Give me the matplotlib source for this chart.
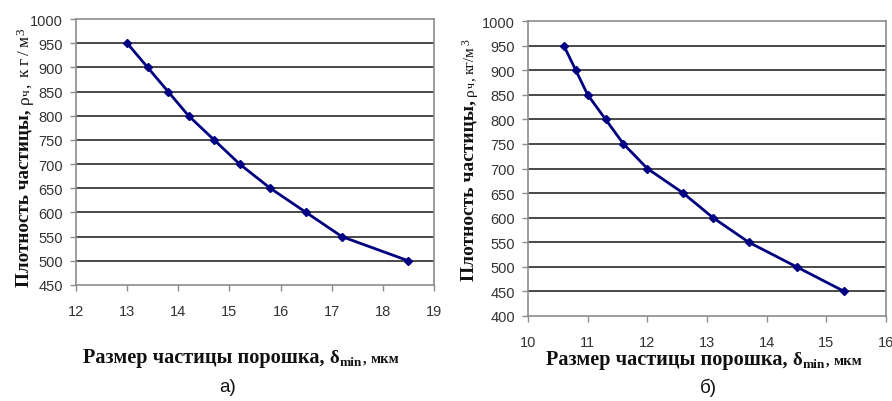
import matplotlib
matplotlib.use("Agg")
import matplotlib.pyplot as plt
import matplotlib.transforms as mtransforms
import numpy as np

# ---- data ----
size_a = [13.0, 13.4, 13.8, 14.2, 14.7, 15.2, 15.8, 16.5, 17.2, 18.5]
dens_a = [950, 900, 850, 800, 750, 700, 650, 600, 550, 500]

size_b = [10.6, 10.8, 11.0, 11.3, 11.6, 12.0, 12.6, 13.1, 13.7, 14.5, 15.3]
dens_b = [950, 900, 850, 800, 750, 700, 650, 600, 550, 500, 450]

xticks_a = [12, 13, 14, 15, 16, 17, 18, 19]
yticks_a = [450, 500, 550, 600, 650, 700, 750, 800, 850, 900, 950, 1000]
xticks_b = [10, 11, 12, 13, 14, 15, 16]
yticks_b = [400, 450, 500, 550, 600, 650, 700, 750, 800, 850, 900, 950, 1000]

panel_a = "а)"
panel_b = "б)"

W, H = 892, 402
fig = plt.figure(figsize=(W / 100, H / 100), dpi=100)

NAVY = "#000080"
GRID = "#2a2a2a"
SPINE = "#8c8c8c"
TICKC = "#333333"


def make_axes(left, right, top, bottom):
    return fig.add_axes([left / W, 1 - bottom / H, (right - left) / W, (bottom - top) / H])


def style(ax, xs, ys, xticks, yticks, xpad):
    ax.plot(xs, ys, color=NAVY, lw=2.0, marker="D", ms=4.5, zorder=5, clip_on=False)
    ax.set_xlim(xticks[0], xticks[-1])
    ax.set_ylim(yticks[0], yticks[-1])
    ax.set_xticks(xticks)
    ax.set_yticks(yticks)
    for y in yticks[1:-1]:
        ax.axhline(y, color=GRID, lw=1.2, zorder=1)
    for s in ["left", "bottom", "right", "top"]:
        ax.spines[s].set_color(SPINE)
        ax.spines[s].set_linewidth(1.2)
    ax.tick_params(axis="both", direction="out", length=4.5, width=1.0, color=SPINE,
                   labelsize=10.5, labelcolor=TICKC)
    ax.tick_params(axis="y", pad=5)
    ax.tick_params(axis="x", pad=xpad)
    for lab in ax.get_xticklabels() + ax.get_yticklabels():
        lab.set_fontfamily("Liberation Sans")


ax_a = make_axes(76, 434, 20, 286)
style(ax_a, size_a, dens_a, xticks_a, yticks_a, 9)
ax_b = make_axes(528, 886, 22, 317)
style(ax_b, size_b, dens_b, xticks_b, yticks_b, 9.5)

renderer = fig.canvas.get_renderer()
ident = mtransforms.IdentityTransform()
SERIF = "Liberation Serif"


def chain_h(x, y, pieces):
    # pieces: (text, size, weight, dy, gap)
    for s, size, weight, dy, gap in pieces:
        x += gap
        t = fig.text(x, y + dy, s, fontsize=size, fontweight=weight, family=SERIF,
                     ha="left", va="baseline", transform=ident, color="#111111")
        bb = t.get_window_extent(renderer)
        x = bb.x1


def chain_v(x, y, pieces):
    for s, size, weight, dx, gap in pieces:
        y += gap
        t = fig.text(x + dx, y, s, fontsize=size, fontweight=weight, family=SERIF,
                     ha="center", va="bottom", rotation=90, transform=ident, color="#111111")
        bb = t.get_window_extent(renderer)
        y = bb.y1


xlab = [("Размер частицы порошка,", 14.6, "bold", 0, 0),
        ("δ", 13.5, "bold", 0, 5),
        ("min", 9.5, "bold", -3, 0),
        (",", 10.5, "bold", 0, 1),
        ("мкм", 10.5, "bold", 0, 5)]
ylab_a = [("Плотность частицы,", 13.8, "bold", 0, 0),
          ("ρ", 12.5, "normal", 1, 5),
          ("ч", 9.5, "normal", 3, 0),
          (",", 12.5, "normal", 1, 1),
          ("к", 12.5, "normal", 1, 7),
          ("г", 12.5, "normal", 1, 3),
          ("/", 12.5, "normal", 1, 3),
          ("м", 12.5, "normal", 1, 3),
          ("3", 9.5, "normal", -3, 1)]
ylab_b = [("Плотность частицы,", 14, "bold", 0, 0),
          ("ρ", 11, "normal", 1, 4),
          ("ч", 8.5, "normal", 3, 0),
          (",", 11, "normal", 1, 1),
          ("кг/м", 11, "normal", 1, 4),
          ("3", 8.5, "normal", -3, 1)]

chain_h(83, H - 363, xlab)
chain_h(546, H - 365, xlab)
chain_v(24, H - 287, ylab_a)
chain_v(469, H - 281, ylab_b)

fig.text(228 / W, 1 - 388 / H, panel_a, fontsize=13.5, family="Liberation Sans",
         ha="center", va="center", color="#111111")
fig.text(708 / W, 1 - 388 / H, panel_b, fontsize=13.5, family="Liberation Sans",
         ha="center", va="center", color="#111111")

fig.savefig("out.png", dpi=100)
